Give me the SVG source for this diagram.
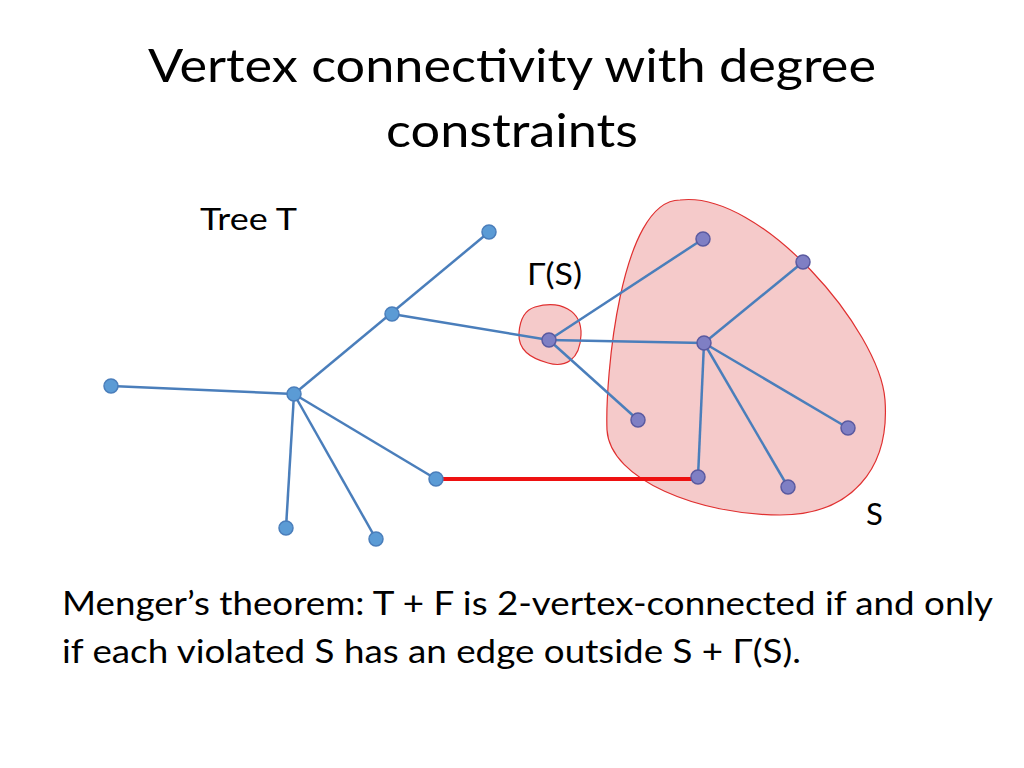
<svg xmlns="http://www.w3.org/2000/svg" width="1024" height="768" viewBox="0 0 1024 768">
<style>
text{font-family:"Lato","Open Sans","Liberation Sans",sans-serif;fill:#000}
.e{stroke:#4a7ebb;stroke-width:2.5;fill:none}
.b{fill:#5b9bd5;stroke:#4a7ebb;stroke-width:1.5}
.p{fill:#7f7fc4;stroke:#5a5aa0;stroke-width:1.5}
</style>
<rect width="1024" height="768" fill="#fff"/>
<text x="148" y="82" font-size="46" textLength="728" lengthAdjust="spacingAndGlyphs">Vertex connectivity with degree</text>
<text x="386" y="147" font-size="46" textLength="252" lengthAdjust="spacingAndGlyphs">constraints</text>
<text x="200" y="230" font-size="31" textLength="97" lengthAdjust="spacingAndGlyphs">Tree T</text>
<text x="527" y="285" font-size="31" textLength="55" lengthAdjust="spacingAndGlyphs">Γ(S)</text>
<text x="866" y="525" font-size="31">S</text>
<text x="62" y="615" font-size="32" textLength="931" lengthAdjust="spacingAndGlyphs">Menger’s theorem: T + F is 2-vertex-connected if and only</text>
<text x="62" y="663" font-size="32" textLength="739" lengthAdjust="spacingAndGlyphs">if each violated S has an edge outside S + Γ(S).</text>
<g id="regionS"><path d="M680,200 C760,190 880,330 885,400 C890,470 850,515 780,515 C700,515 610,480 607,430 C605,380 620,200 680,200 Z" fill="#f2b8b8" fill-opacity="0.75" stroke="#e03030" stroke-width="1.2"/></g>
<g id="regionG"><path d="M535,307 C560,300 582,310 581,335 C580,360 565,368 548,363 C530,358 518,350 519,333 C520,318 525,310 535,307 Z" fill="#f2b8b8" fill-opacity="0.75" stroke="#e03030" stroke-width="1.2"/></g>
<g id="connectors">
<line class="e" x1="489" y1="232" x2="294" y2="394"/>
<line class="e" x1="392" y1="314" x2="549" y2="340"/>
<line class="e" x1="111" y1="386" x2="294" y2="394"/>
<line class="e" x1="294" y1="394" x2="436" y2="479"/>
<line class="e" x1="294" y1="394" x2="286" y2="528"/>
<line class="e" x1="294" y1="394" x2="376" y2="539"/>
<line class="e" x1="549" y1="340" x2="703" y2="239"/>
<line class="e" x1="549" y1="340" x2="704" y2="343"/>
<line class="e" x1="549" y1="340" x2="638" y2="420"/>
<line class="e" x1="704" y1="343" x2="803" y2="262"/>
<line class="e" x1="704" y1="343" x2="698" y2="477"/>
<line class="e" x1="704" y1="343" x2="788" y2="487"/>
<line class="e" x1="704" y1="343" x2="848" y2="428"/>
<line x1="436" y1="479" x2="698" y2="479" stroke="#ee1111" stroke-width="4"/>
</g>
<g id="n1"><circle class="b" cx="489" cy="232" r="7"/></g>
<g id="n2"><circle class="b" cx="392" cy="314" r="7"/></g>
<g id="n3"><circle class="b" cx="111" cy="386" r="7"/></g>
<g id="n4"><circle class="b" cx="294" cy="394" r="7"/></g>
<g id="n5"><circle class="b" cx="436" cy="479" r="7"/></g>
<g id="n6"><circle class="b" cx="286" cy="528" r="7"/></g>
<g id="n7"><circle class="b" cx="376" cy="539" r="7"/></g>
<g id="s1"><circle class="p" cx="703" cy="239" r="7"/></g>
<g id="s2"><circle class="p" cx="803" cy="262" r="7"/></g>
<g id="g1"><circle class="p" cx="549" cy="340" r="7"/></g>
<g id="s3"><circle class="p" cx="704" cy="343" r="7"/></g>
<g id="s4"><circle class="p" cx="638" cy="420" r="7"/></g>
<g id="s5"><circle class="p" cx="848" cy="428" r="7"/></g>
<g id="s6"><circle class="p" cx="698" cy="477" r="7"/></g>
<g id="s7"><circle class="p" cx="788" cy="487" r="7"/></g>
</svg>
